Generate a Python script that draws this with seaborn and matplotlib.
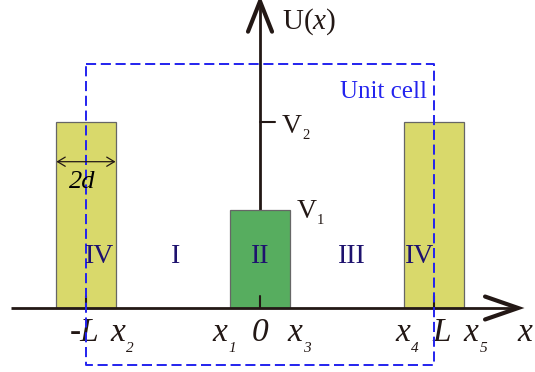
import matplotlib
matplotlib.use("Agg")
import matplotlib.pyplot as plt
import seaborn as sns
import pandas as pd

# Kronig-Penney style potential: barriers inside one unit cell [-L, L]
L = 1.0            # half period
d = 0.17           # barrier half-width
V1 = 1.0           # central barrier height
V2 = 1.9           # outer barrier height
barrier_pos = [-L, 0.0, L]
barrier_height = [V2, V1, V2]
barrier_kind = ["outer", "inner", "outer"]

region_names = ["IV", "I", "II", "III", "IV"]
region_x = [-0.92, -0.483, 0.0, 0.529, 0.917]

# axis labels: (main text, subscript, left position)
xlabels = [("x", "2", -0.862), ("x", "1", -0.276), ("x", "3", 0.155),
           ("x", "4", 0.776), ("x", "5", 1.167)]

sns.set_style("white")
plt.rcParams["font.family"] = ["Liberation Serif", "DejaVu Serif"]
plt.rcParams["mathtext.fontset"] = "custom"
plt.rcParams["mathtext.rm"] = "Liberation Serif"
plt.rcParams["mathtext.it"] = "Liberation Serif:italic"

AX = "#231815"
BLUE = "#2323ee"
NAVY = "#1e126e"

fig = plt.figure(figsize=(5.35, 3.72), dpi=100)
ax = fig.add_axes([0, 0, 1, 1])

# vertical U axis (drawn under the bars)
ax.plot([0, 0], [0, 3.13], color=AX, lw=2.0, zorder=1, solid_capstyle="butt")

df = pd.DataFrame({"x": barrier_pos, "V": barrier_height, "kind": barrier_kind})
sns.barplot(data=df, x="x", y="V", hue="kind", native_scale=True, dodge=False,
            width=2 * d / L, palette={"outer": "#d9d96b", "inner": "#57ad5f"},
            saturation=1, edgecolor="#666666", linewidth=0.9, legend=False,
            errorbar=None, ax=ax, zorder=2)

# horizontal x axis
ax.plot([-1.431, 1.475], [0, 0], color=AX, lw=2.0, zorder=3, solid_capstyle="butt")
# open arrow heads
ax.plot([1.293, 1.483, 1.293], [0.117, 0, -0.117], color=AX, lw=3.0,
        solid_joinstyle="miter", zorder=3)
ax.plot([-0.069, 0, 0.069], [2.82, 3.13, 2.82], color=AX, lw=3.0,
        solid_joinstyle="miter", zorder=3)

# ticks at -L, 0, L and at V2
for xt in [-L, 0.0, L]:
    ax.plot([xt, xt], [0, 0.12], color=AX, lw=1.5, zorder=3)
ax.plot([0, 0.086], [V2, V2], color=AX, lw=1.5, zorder=3)

# unit cell box
ax.plot([-L, L, L, -L, -L], [2.49, 2.49, -0.58, -0.58, 2.49], color=BLUE,
        lw=1.4, dashes=(5.2, 2.4), zorder=4)
ax.text(0.46, 2.143, "Unit cell", color=BLUE, fontsize=18, ha="left",
        va="baseline", zorder=5)

# width marker 2d on the left barrier
ax.annotate("", xy=(-L + d, 1.493), xytext=(-L - d, 1.493),
            arrowprops=dict(arrowstyle="<->,head_length=0.5,head_width=0.3",
                            mutation_scale=11, lw=0.9, color=AX,
                            shrinkA=0, shrinkB=0), zorder=5)
ax.text(-1.023, 1.224, "2d", fontsize=19, style="italic", ha="center",
        va="baseline", color="black", zorder=5)

# region names
for name, xr in zip(region_names, region_x):
    ax.text(xr, 0.459, name, fontsize=20, color=NAVY, ha="center",
            va="baseline", zorder=5)

# potential labels
ax.text(0.125, 2.847, r"U($x$)", fontsize=21, color=AX, ha="left", va="baseline")
for yv, xv, sub in [(1.786, 0.126, "2"), (0.918, 0.211, "1")]:
    ax.text(xv, yv, "V", fontsize=20, color=AX, ha="left", va="baseline")
    ax.annotate(sub, xy=(xv, yv), xytext=(14.4, -4.5), textcoords="offset points",
                fontsize=10.5, color=AX, ha="left", va="baseline")

# x axis labels
yb = -0.337
for main, sub, xl in xlabels:
    ax.text(xl, yb, main, fontsize=24, style="italic", color=AX, ha="left",
            va="baseline")
    ax.annotate(sub, xy=(xl, yb), xytext=(11.8, -7.9), textcoords="offset points",
                fontsize=11, style="italic", color=AX, ha="left", va="baseline")
ax.text(-1.092, yb, "-L", fontsize=24, style="italic", color=AX, ha="left", va="baseline")
ax.text(0.0, yb, "0", fontsize=24, style="italic", color=AX, ha="center", va="baseline")
ax.text(0.989, yb, "L", fontsize=24, style="italic", color=AX, ha="left", va="baseline")
ax.text(1.477, yb, "x", fontsize=24, style="italic", color=AX, ha="left", va="baseline")

ax.set_xlim(-1.494, 1.580)
ax.set_ylim(-0.653, 3.143)
ax.axis("off")

fig.savefig("out.png", dpi=100)
